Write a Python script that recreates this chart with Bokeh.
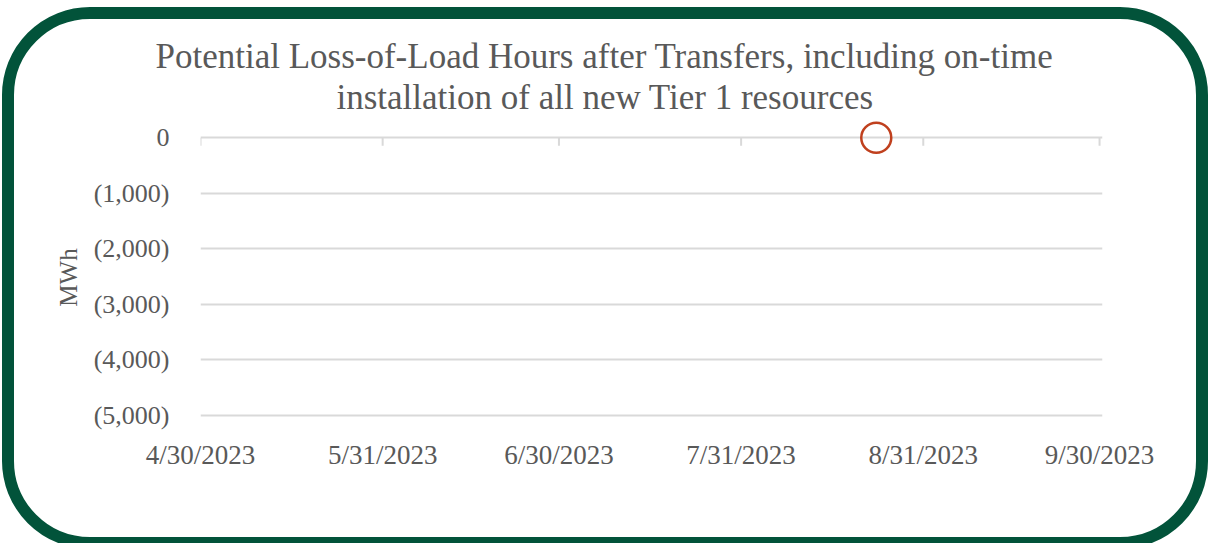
import pandas as pd
from bokeh.plotting import figure
from bokeh.models import (Range1d, FixedTicker, NumeralTickFormatter, CustomJSTickFormatter,
                          DatetimeAxis, Title, ColumnDataSource)
from bokeh.embed import file_html
from bokeh.resources import INLINE

# ---- data ----
title_lines = ["Potential Loss-of-Load Hours after Transfers, including on-time",
               "installation of all new Tier 1 resources"]
x_tick_dates = ["2023-04-30", "2023-05-31", "2023-06-30", "2023-07-31", "2023-08-31", "2023-09-30"]
y_ticks = [0, -1000, -2000, -3000, -4000, -5000]
point_dates = ["2023-08-23"]
point_values = [0]
y_label = "MWh"

FONT = "Liberation Serif"
TXT = "#595959"
GRID = "#D9D9D9"

xt = pd.to_datetime(x_tick_dates)
xt_ms = [float(t.value // 10**6) for t in xt]

src = ColumnDataSource(dict(x=pd.to_datetime(point_dates), y=point_values))

W, H = 1206, 542
B_LEFT, B_RIGHT, B_TOP, B_BOTTOM = 186, 118, 96, 122
Y_START, Y_END = -5432, 400
frame_h = H - B_TOP - B_BOTTOM
px_per_unit = frame_h / (Y_END - Y_START)
tick_len = 8 / px_per_unit  # 8 px tick marks, in data units

p = figure(width=W, height=H, x_axis_type="datetime", x_axis_location=None,
           output_backend="svg", toolbar_location=None,
           x_range=Range1d(xt[0], xt[-1] + pd.Timedelta(hours=12)),
           y_range=Range1d(Y_START, Y_END),
           min_border_left=B_LEFT, min_border_right=B_RIGHT,
           min_border_top=B_TOP, min_border_bottom=B_BOTTOM)
p.outline_line_color = None
p.background_fill_alpha = 0
p.border_fill_alpha = 0

# titles (added closest-first), left-aligned with pixel offsets from the frame's left edge
title_offsets = [-45, 136]
for i in (1, 0):
    p.add_layout(Title(text=title_lines[i], align="left", offset=title_offsets[i],
                       text_font=FONT, text_font_size="35px",
                       text_font_style="normal", text_color=TXT,
                       standoff=-3 if i == 1 else 4), "above")

# y axis
p.yaxis.ticker = FixedTicker(ticks=y_ticks)
p.yaxis.formatter = NumeralTickFormatter(format="(0,0)")
p.yaxis.axis_line_color = None
p.yaxis.major_tick_line_color = None
p.yaxis.minor_tick_line_color = None
p.yaxis.major_tick_out = 0
p.yaxis.major_label_text_font = FONT
p.yaxis.major_label_text_font_size = "26px"
p.yaxis.major_label_text_color = TXT
p.yaxis.major_label_standoff = 31
p.yaxis.axis_label = y_label
p.yaxis.axis_label_text_font = FONT
p.yaxis.axis_label_text_font_size = "25px"
p.yaxis.axis_label_text_font_style = "normal"
p.yaxis.axis_label_text_color = TXT
p.yaxis.axis_label_standoff = 9

p.ygrid.ticker = FixedTicker(ticks=y_ticks)
p.ygrid.grid_line_color = GRID
p.ygrid.grid_line_width = 2
p.xgrid.grid_line_color = None

# x axis labels at the bottom
fmt = CustomJSTickFormatter(code="""
const d = new Date(tick);
return (d.getUTCMonth()+1) + '/' + d.getUTCDate() + '/' + d.getUTCFullYear();
""")
xaxis = DatetimeAxis(ticker=FixedTicker(ticks=xt_ms), formatter=fmt,
                     axis_line_color=None, major_tick_line_color=None,
                     major_tick_out=0, major_tick_in=0, minor_tick_line_color=None,
                     major_label_text_font=FONT, major_label_text_font_size="27px",
                     major_label_text_color=TXT, major_label_standoff=0)
p.add_layout(xaxis, "below")

# tick marks hanging from the zero line
tick_src = ColumnDataSource(dict(x=xt, y0=[0] * len(xt), y1=[-tick_len] * len(xt)))
p.segment(x0="x", y0="y0", x1="x", y1="y1", source=tick_src,
          line_color=GRID, line_width=2)

p.scatter("x", "y", source=src, size=30, marker="circle", fill_color=None,
          line_color="#C0401E", line_width=2.5)

p.styles = {"border": "12px solid #02533A", "border-radius": "88px", "overflow": "hidden",
            "margin-left": "2px", "margin-top": "7px",
            "margin-bottom": "-40px", "margin-right": "-40px"}

open("out.html", "w").write(file_html(p, INLINE))
